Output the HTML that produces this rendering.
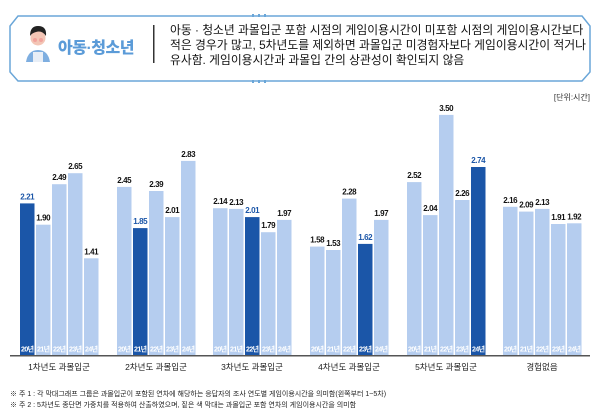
<!DOCTYPE html>
<html><head><meta charset="utf-8"><style>
html,body{margin:0;padding:0;background:#fff;width:600px;height:417px;overflow:hidden}
svg{display:block;font-family:"Liberation Sans","Noto Sans CJK KR",sans-serif}
</style></head><body>
<svg id="s" width="600" height="417" viewBox="0 0 600 417">
<path d="M18,16 H582 L590,26 V72 L582,81 H18 L10,72 V26 Z" fill="#fff" stroke="#6aa6d8" stroke-width="1.5"/>
<g fill="#6aa6d8"><rect x="252" y="14" width="2" height="3"/><rect x="258" y="14" width="2" height="3"/><rect x="264" y="14" width="2" height="3"/>
<rect x="252" y="80" width="2" height="3"/><rect x="258" y="80" width="2" height="3"/><rect x="264" y="80" width="2" height="3"/></g>
<path d="M26,62 Q28,50 38,50 Q48,50 50,62 Z" fill="#7eaee0"/>
<rect x="33" y="52" width="10" height="10" fill="#e8eef6"/>
<circle cx="38" cy="38" r="7.5" fill="#f3c5b5"/>
<path d="M30,36 Q30,26 38,26 Q47,26 46,36 Q42,30 36,32 Q32,33 30,36Z" fill="#222"/>
<circle cx="35" cy="40" r="2" fill="#f08a8a" opacity=".6"/><circle cx="41" cy="40" r="2" fill="#f08a8a" opacity=".6"/>
<text x="96" y="53" text-anchor="middle" font-size="16" font-weight="900" fill="#5b9bd8" letter-spacing="-0.5">아동·청소년</text>
<rect x="153" y="25" width="1.5" height="38" fill="#333"/>
<g font-size="11.8" fill="#111">
<text x="170" y="34">아동 · 청소년 과몰입군 포함 시점의 게임이용시간이 미포함 시점의 게임이용시간보다</text>
<text x="170" y="49">적은 경우가 많고, 5차년도를 제외하면 과몰입군 미경험자보다 게임이용시간이 적거나</text>
<text x="170" y="64">유사함. 게임이용시간과 과몰입 간의 상관성이 확인되지 않음</text>
</g>
<text x="590" y="100" text-anchor="end" font-size="8" fill="#333">[단위:시간]</text>
<g id="bars"></g>
<rect x="10" y="355" width="580" height="1.5" fill="#555"/>
<g font-size="7" fill="#222">
<text x="10" y="396">※ 주 1 : 각 막대그래프 그룹은 과몰입군이 포함된 연차에 해당하는 응답자의 조사 연도별 게임이용시간을 의미함(왼쪽부터 1~5차)</text>
<text x="10" y="407">※ 주 2 : 5차년도 종단면 가중치를 적용하여 산출하였으며, 짙은 색 막대는 과몰입군 포함 연차의 게임이용시간을 의미함</text>
</g>
</svg>
<script>
var data=[[2.21,1.90,2.49,2.65,1.41],[2.45,1.85,2.39,2.01,2.83],[2.14,2.13,2.01,1.79,1.97],[1.58,1.53,2.28,1.62,1.97],[2.52,2.04,3.50,2.26,2.74],[2.16,2.09,2.13,1.91,1.92]];
var names=["1차년도 과몰입군","2차년도 과몰입군","3차년도 과몰입군","4차년도 과몰입군","5차년도 과몰입군","경험없음"];
var starts=[20,117,213,310,407,503];
var h="";
data.forEach(function(g,gi){
 g.forEach(function(v,i){
  var x=starts[gi]+i*16, w=14.5, top=355-v*68.6, dark=(i==gi);
  h+='<rect x="'+x+'" y="'+top.toFixed(1)+'" width="'+w+'" height="'+(355-top).toFixed(1)+'" fill="'+(dark?'#1b56a8':'#b5cdef')+'"/>';
  h+='<text x="'+(x+w/2)+'" y="'+(top-4).toFixed(1)+'" text-anchor="middle" font-size="8" font-weight="bold" letter-spacing="-0.4" fill="'+(dark?'#1b56a8':'#111')+'">'+v.toFixed(2)+'</text>';
  h+='<text x="'+(x+w/2)+'" y="351.5" text-anchor="middle" font-size="7" font-weight="bold" letter-spacing="-0.6" fill="#fff">'+(20+i)+'년</text>';
 });
 h+='<text x="'+(starts[gi]+39)+'" y="370" text-anchor="middle" font-size="8.5" fill="#222">'+names[gi]+'</text>';
});
document.getElementById("bars").innerHTML=h;
</script>
</body></html>
